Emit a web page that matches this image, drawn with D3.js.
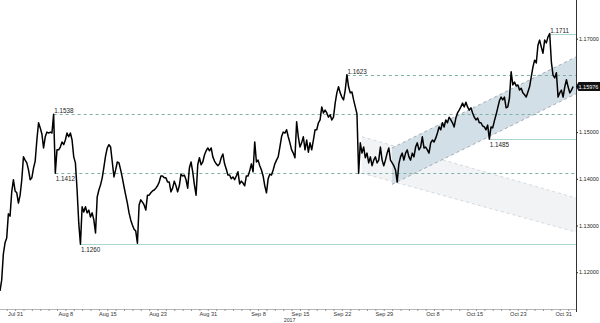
<!DOCTYPE html>
<html><head><meta charset="utf-8">
<script src="https://cdn.jsdelivr.net/npm/d3@7"></script>
<style>
body{margin:0;background:#fff}
svg{display:block}
text{font-family:"Liberation Sans",Arial,sans-serif}
</style>
</head><body><svg id="c" width="600" height="323"></svg>
<script>
// time measured in trading days relative to Mon Jul 31 2017
const startDay = -1.8;
const stepDay = 0.2;
const prices = [
1.1160,1.1183,1.1239,1.1263,1.1273,1.1325,1.1320,1.1372,1.1398,1.1374,
1.1370,1.1348,1.1365,1.1398,1.1447,1.1440,1.1434,1.1419,1.1398,1.1402,
1.1423,1.1438,1.1483,1.1520,1.1509,1.1496,1.1466,1.1490,1.1500,1.1498,
1.1500,1.1498,1.1538,1.1412,1.1462,1.1462,1.1468,1.1479,1.1473,1.1483,
1.1498,1.1490,1.1498,1.1483,1.1447,1.1434,1.1376,1.1305,1.1260,1.1340,
1.1329,1.1340,1.1327,1.1333,1.1318,1.1327,1.1312,1.1284,1.1361,1.1376,
1.1387,1.1402,1.1425,1.1449,1.1466,1.1473,1.1468,1.1436,1.1404,1.1419,
1.1436,1.1434,1.1419,1.1402,1.1383,1.1365,1.1348,1.1327,1.1312,1.1301,
1.1292,1.1288,1.1262,1.1344,1.1355,1.1350,1.1344,1.1333,1.1365,1.1365,
1.1370,1.1374,1.1376,1.1380,1.1385,1.1393,1.1406,1.1406,1.1402,1.1402,
1.1393,1.1393,1.1372,1.1380,1.1395,1.1385,1.1372,1.1385,1.1410,1.1406,
1.1408,1.1398,1.1380,1.1423,1.1436,1.1415,1.1387,1.1365,1.1430,1.1445,
1.1430,1.1436,1.1451,1.1460,1.1466,1.1460,1.1466,1.1447,1.1438,1.1432,
1.1428,1.1432,1.1445,1.1453,1.1432,1.1421,1.1408,1.1408,1.1400,1.1404,
1.1398,1.1406,1.1415,1.1389,1.1395,1.1391,1.1385,1.1406,1.1406,1.1417,
1.1432,1.1415,1.1479,1.1436,1.1440,1.1428,1.1419,1.1406,1.1385,1.1370,
1.1400,1.1410,1.1408,1.1419,1.1432,1.1440,1.1447,1.1468,1.1490,1.1500,
1.1498,1.1505,1.1490,1.1477,1.1462,1.1455,1.1445,1.1522,1.1490,1.1468,
1.1477,1.1490,1.1462,1.1483,1.1457,1.1477,1.1462,1.1483,1.1505,1.1505,
1.1520,1.1526,1.1554,1.1541,1.1547,1.1541,1.1532,1.1537,1.1526,1.1532,
1.1562,1.1584,1.1597,1.1584,1.1575,1.1569,1.1590,1.1623,1.1597,1.1584,
1.1586,1.1569,1.1554,1.1539,1.1412,1.1477,1.1455,1.1468,1.1445,1.1455,
1.1434,1.1447,1.1428,1.1440,1.1447,1.1434,1.1440,1.1468,1.1440,1.1428,
1.1440,1.1455,1.1466,1.1440,1.1434,1.1428,1.1419,1.1393,1.1432,1.1447,
1.1455,1.1440,1.1455,1.1462,1.1447,1.1440,1.1455,1.1447,1.1468,1.1477,
1.1462,1.1468,1.1490,1.1466,1.1468,1.1462,1.1455,1.1477,1.1483,1.1479,
1.1487,1.1498,1.1511,1.1505,1.1520,1.1511,1.1526,1.1520,1.1532,1.1526,
1.1520,1.1511,1.1530,1.1541,1.1547,1.1554,1.1562,1.1554,1.1564,1.1554,
1.1547,1.1552,1.1541,1.1532,1.1526,1.1530,1.1520,1.1520,1.1513,1.1511,
1.1505,1.1515,1.1485,1.1511,1.1509,1.1524,1.1537,1.1552,1.1567,1.1575,
1.1569,1.1575,1.1552,1.1554,1.1573,1.1629,1.1601,1.1607,1.1599,1.1601,
1.1590,1.1594,1.1584,1.1580,1.1575,1.1586,1.1597,1.1618,1.1639,1.1654,
1.1648,1.1686,1.1697,1.1682,1.1669,1.1697,1.1691,1.1704,1.1711,1.1650,
1.1622,1.1616,1.1627,1.1575,1.1584,1.1590,1.1575,1.1597,1.1612,1.1597,
1.1584,1.1590,1.15976
];
const lastPrice = 1.15976;
const yTicks = [1.12, 1.13, 1.14, 1.15, 1.16, 1.17];
const xTickLabels = ["Jul 31","Aug 8","Aug 15","Aug 23","Aug 31","Sep 8","Sep 15","Sep 22","Sep 29","Oct 8","Oct 15","Oct 23","Oct 31"];
const xTickDays = [0, 6, 11, 17, 23, 29, 34, 39, 44, 49.8, 54.8, 60, 66];
const yearLabel = "2017";
const levelValues = [1.1538, 1.1412, 1.1260, 1.1623, 1.1485, 1.1711];
const levelLabels = ["1.1538", "1.1412", "1.1260", "1.1623", "1.1485", "1.1711"];
const levelDashed = [true, true, false, true, false, false];
const levelLabelAbove = [true, false, false, true, false, true];
const endDay = 66.94;
const upChannelDays = [44.98, endDay];
const upChannelLower = [1.1388, 1.1582];
const upChannelUpper = [1.1466, 1.1661];
const downChannelDays = [41.4, endDay];
const downChannelUpper = [1.1490, 1.1359];
const downChannelLower = [1.1412, 1.1286];

const svg = d3.select("#c");
const axisX = 576, axisY = 309;
const x = d3.scaleLinear().domain([startDay, endDay]).range([0, axisX]);
const y = d3.scaleLinear().domain([1.12, 1.17]).range([272.2, 38.7]);
const dayOf = i => startDay + i * stepDay;

// channels
function channel(days, upper, lower, fill, stroke) {
  const poly = [[days[0], upper[0]], [days[1], upper[1]], [days[1], lower[1]], [days[0], lower[0]]];
  svg.append("path")
    .attr("d", "M" + poly.map(p => [x(p[0]), y(p[1])].join(",")).join("L") + "Z")
    .attr("fill", fill);
  [upper, lower].forEach(b => {
    svg.append("line")
      .attr("x1", x(days[0])).attr("y1", y(b[0]))
      .attr("x2", x(days[1])).attr("y2", y(b[1]))
      .attr("stroke", stroke).attr("stroke-width", 0.8).attr("stroke-dasharray", "3,3");
  });
}
channel(downChannelDays, downChannelUpper, downChannelLower, "#f1f3f5", "#c9d0d6");
channel(upChannelDays, upChannelUpper, upChannelLower, "#d3dfe7", "#8e9ba6");

// level lines
levelValues.forEach((v, k) => {
  const idx = prices.findIndex(p => Math.abs(p - v) < 1e-9);
  const x0 = x(dayOf(idx));
  const yy = Math.round(y(v)) + 0.5;
  svg.append("line")
    .attr("x1", x0).attr("x2", axisX).attr("y1", yy).attr("y2", yy)
    .attr("stroke", levelDashed[k] ? "#7fb1a8" : "#a9d6cd")
    .attr("stroke-width", 1)
    .attr("stroke-dasharray", levelDashed[k] ? "3,3" : null);
  svg.append("text")
    .attr("x", x0 + 0.5).attr("y", levelLabelAbove[k] ? yy - 1.5 : yy + 7)
    .attr("font-size", 6.3).attr("fill", "#222")
    .text(levelLabels[k]);
});

// price line
const line = d3.line().x((d, i) => x(dayOf(i))).y(d => y(d));
svg.append("path").datum(prices)
  .attr("d", line).attr("fill", "none")
  .attr("stroke", "#000").attr("stroke-width", 1.5).attr("stroke-linejoin", "round");

// right axis
const ra = svg.append("g").attr("transform", `translate(${axisX},0)`)
  .call(d3.axisRight(y).tickValues(yTicks).tickFormat(d3.format(".5f")).tickSize(2).tickPadding(1));
ra.select(".domain").remove();
ra.selectAll("line").attr("stroke", "#222");
ra.selectAll("text").attr("font-size", 5.5).attr("fill", "#222").attr("font-family", null);
svg.append("line").attr("x1", axisX + 0.5).attr("x2", axisX + 0.5).attr("y1", 0).attr("y2", 312)
  .attr("stroke", "#333").attr("stroke-width", 1);

// bottom axis
svg.append("line").attr("x1", 0).attr("x2", axisX).attr("y1", axisY + 0.5).attr("y2", axisY + 0.5)
  .attr("stroke", "#b8b8b8").attr("stroke-width", 1);
const minor = svg.append("g").attr("transform", `translate(0,${axisY})`)
  .call(d3.axisBottom(x).tickValues(d3.range(-1, 67)).tickSize(2).tickFormat(""));
minor.select(".domain").remove();
minor.selectAll("line").attr("stroke", "#999");
const ba = svg.append("g").attr("transform", `translate(0,${axisY})`)
  .call(d3.axisBottom(x).tickValues(xTickDays).tickFormat((d, i) => xTickLabels[i]).tickSize(0).tickPadding(3));
ba.select(".domain").remove();
ba.selectAll("text").attr("font-size", 5.6).attr("fill", "#333").attr("font-family", null)
  .attr("dx", (d, i) => i === xTickLabels.length - 1 ? -5 : 0);
svg.append("text").attr("x", x(33) - 2).attr("y", 321.5).attr("font-size", 5.3)
  .attr("text-anchor", "middle").attr("fill", "#333").text(yearLabel);

// last price tag
const ly = y(lastPrice);
svg.append("path")
  .attr("d", `M${axisX},${ly}L${axisX + 2.5},${ly - 4.5}L600,${ly - 4.5}L600,${ly + 4.5}L${axisX + 2.5},${ly + 4.5}Z`)
  .attr("fill", "#111");
svg.append("text").attr("x", axisX + 2.5).attr("y", ly + 2).attr("font-size", 5.5)
  .attr("fill", "#fff").text(lastPrice.toFixed(5));
</script>
</body></html>
